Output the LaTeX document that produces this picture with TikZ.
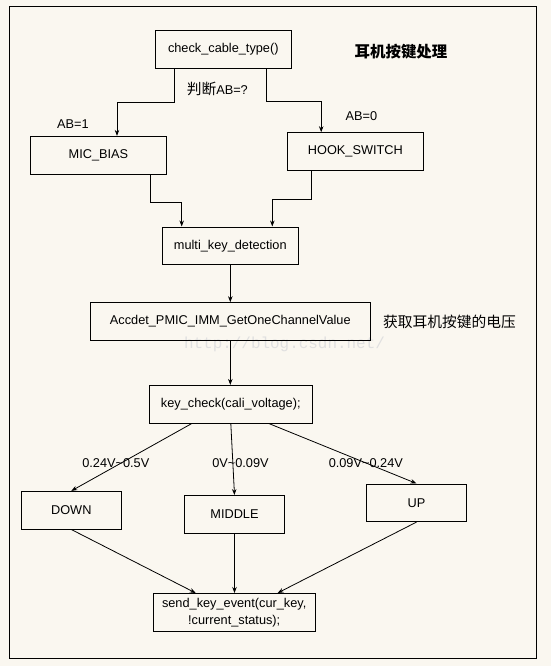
\documentclass[tikz,border=0pt]{standalone}
\usepackage{fontspec}
\setmainfont{Liberation Sans}
\newfontfamily\cjk{Noto Sans CJK SC}
\newfontfamily\wmfont{Liberation Mono}
\usetikzlibrary{arrows.meta}
\definecolor{paper}{HTML}{FAF7F0}
\tikzset{Box/.style={draw, line width=0.8bp, inner sep=0pt, minimum height=37.8bp, font=\fontsize{12.8}{14}\selectfont},
         Arr/.style={draw, line width=0.8bp, -{Stealth[length=6bp,width=4.5bp]}},
         Plain/.style={inner sep=0pt, font=\fontsize{12.8}{14}\selectfont},
         Cjk/.style={inner sep=0pt, font=\cjk\fontsize{14.8}{16}\selectfont}}
\begin{document}
\begin{tikzpicture}[x=1bp, y=-1bp]
  \useasboundingbox[fill=paper] (0,0) rectangle (551,666);
  \draw[line width=0.8bp] (9.5,6) rectangle (536.5,658.3);
  \node[font=\wmfont\fontsize{16}{18}\selectfont, text=black!12, inner sep=0pt] (Mark) at (284.5,344) {http://blog.csdn.net/};
    \node[Box, minimum width=136bp] (Check) at (223.3,49.5) {check\_cable\_type()};
    \node[Box, minimum width=135.6bp] (Mic) at (98.4,155.2) {MIC\_BIAS};
    \node[Box, minimum width=136bp] (Hook) at (355.4,151.5) {HOOK\_SWITCH};
    \node[Box, minimum width=136bp] (Multi) at (230.3,245.8) {multi\_key\_detection};
    \node[Box, minimum width=280bp] (Accdet) at (230.3,321.5) {Accdet\_PMIC\_IMM\_GetOneChannelValue};
    \node[Box, minimum width=163bp] (Key) at (230.8,404.2) {key\_check(cali\_voltage);};
    \node[Box, minimum width=100.6bp] (Down) at (71.3,510.2) {DOWN};
    \node[Box, minimum width=100bp] (Middle) at (234.5,514.3) {MIDDLE};
    \node[Box, minimum width=100bp] (Up) at (416.5,502.8) {UP};
    \node[Box, minimum width=162bp, align=center, font=\fontsize{12.8}{17}\selectfont] (Send) at (234.2,612.3) {send\_key\_event(cur\_key,\\!current\_status);};
    \node[Cjk, font=\cjk\bfseries\fontsize{15.5}{17}\selectfont] (Title) at (401,51.7) {耳机按键处理};
    \node[Cjk] (Judge) at (217.3,89.3) {判断{\rmfamily\fontsize{12.8}{14}\selectfont AB=?}};
    \node[Plain] (AB1) at (73,124) {AB=1};
    \node[Plain] (AB0) at (361.5,115.7) {AB=0};
    \node[Cjk] (Volt) at (449.4,322.3) {获取耳机按键的电压};
    \node[Plain] (L1) at (115.8,463.3) {0.24V\textasciitilde0.5V};
    \node[Plain] (L2) at (240.5,463) {0V\textasciitilde0.09V};
    \node[Plain] (L3) at (365.8,463) {0.09V\textasciitilde0.24V};
  \draw[Arr] ([xshift=-48.7bp]Check.south) -- ++(0,34) -| ([xshift=18.6bp]Mic.north);
  \draw[Arr] ([xshift=43bp]Check.south) -- ++(0,32.7) -| ([xshift=-34.2bp]Hook.north);
  \draw[Arr] ([xshift=51.6bp]Mic.south) -- ++(0,27.7) -| ([xshift=-48.6bp]Multi.north);
  \draw[Arr] ([xshift=-44.1bp]Hook.south) -- ++(0,28.6) -| ([xshift=42bp]Multi.north);
  \path[every edge/.append style={Arr}]
    (Multi.south) edge (Multi.south |- Accdet.north)
    (Accdet.south) edge (Accdet.south |- Key.north)
    ([xshift=-39bp]Key.south) edge (Down.north)
    (Key.south) edge (Middle.north)
    ([xshift=38bp]Key.south) edge (Up.north)
    (Down.south) edge ([xshift=-38.5bp]Send.north)
    (Middle.south) edge (Middle.south |- Send.north)
    (Up.south) edge ([xshift=43.4bp]Send.north);
\end{tikzpicture}
\end{document}
